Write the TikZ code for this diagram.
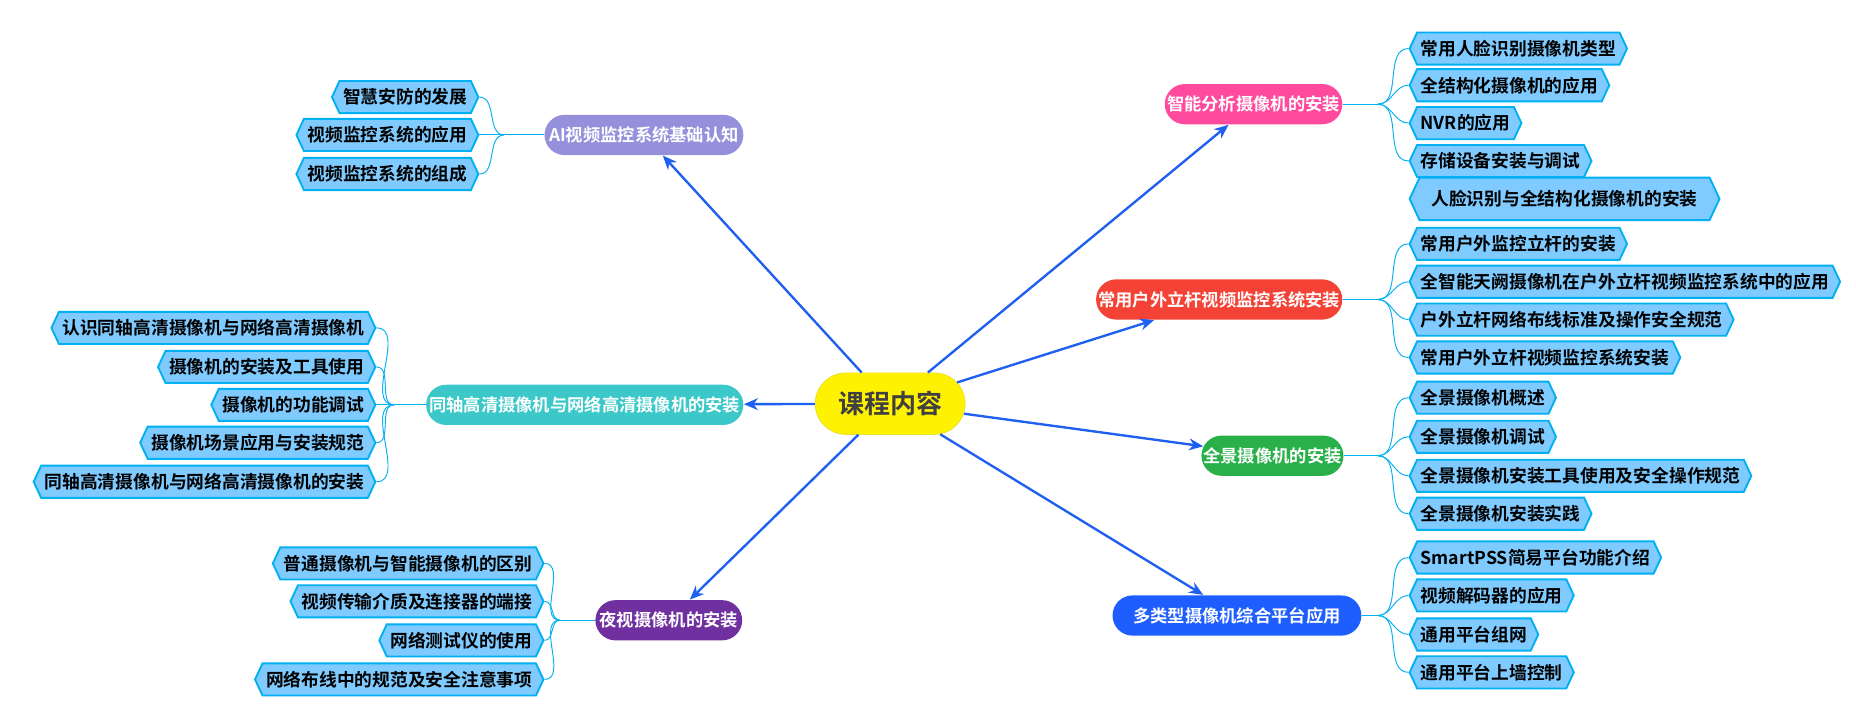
\documentclass[tikz,border=0pt]{standalone}
\usepackage{fontspec}
\newfontfamily\cjk{Noto Sans CJK SC Bold}
\usetikzlibrary{shapes.misc,shapes.symbols,arrows.meta}
\definecolor{leaffill}{HTML}{7FCBFF}
\definecolor{leafdraw}{HTML}{00B0F0}
\definecolor{arrblue}{HTML}{2060F0}
\definecolor{cai}{HTML}{9490DC}
\definecolor{cco}{HTML}{3CC8C8}
\definecolor{cni}{HTML}{7030A0}
\definecolor{czn}{HTML}{FF4A9E}
\definecolor{clg}{HTML}{F44336}
\definecolor{cqj}{HTML}{2AB04A}
\definecolor{cdl}{HTML}{1E5EFF}
\tikzset{
 leaf/.style={shape=signal,signal to=east and west,signal pointer angle=130,fill=leaffill,draw=leafdraw,line width=0.8pt,
   font=\cjk\fontsize{7.5}{8}\selectfont,text=black,inner xsep=1.5pt,inner ysep=3.2pt,minimum height=13pt},
 main/.style={shape=rounded rectangle,fill=#1,text=white,font=\cjk\fontsize{7.3}{8}\selectfont,minimum height=17pt,inner xsep=8pt},
 arr/.style={draw=arrblue,line width=1pt,-{Stealth[length=6pt,width=5pt]}},
 con/.style={draw=leafdraw,line width=0.4pt},
}
\begin{document}
\begin{tikzpicture}[x=0.5pt,y=-0.5pt]
\useasboundingbox (0,0) rectangle (1568,607);
% center
\node[shape=rounded rectangle,fill=yellow,draw=yellow!80!gray,line width=0.3pt,minimum width=70pt,minimum height=26pt,font=\cjk\fontsize{11}{12}\selectfont,text=black!75] (c) at (752,341) {课程内容};
% main nodes
\node[main=cai,minimum width=100pt] (ai) at (544,114) {AI视频监控系统基础认知};
\node[main=cco,minimum width=150pt] (co) at (494,342) {同轴高清摄像机与网络高清摄像机的安装};
\node[main=cni,minimum width=78pt] (ni) at (565,524) {夜视摄像机的安装};
\node[main=czn,minimum width=91pt] (zn) at (1059,88) {智能分析摄像机的安装};
\node[main=clg,minimum width=120pt] (lg) at (1030,253) {常用户外立杆视频监控系统安装};
\node[main=cqj,minimum width=76pt] (qj) at (1075,385) {全景摄像机的安装};
\node[main=cdl,minimum width=105pt] (dl) at (1045,520) {多类型摄像机综合平台应用};
\foreach \m in {ai,co,ni,zn,lg,qj,dl} \draw[arr] (c) -- (\m);
% left leaves
\node[leaf,anchor=east] (a1) at (405,82) {智慧安防的发展};
\node[leaf,anchor=east] (a2) at (405,114) {视频监控系统的应用};
\node[leaf,anchor=east] (a3) at (405,147) {视频监控系统的组成};
\node[leaf,anchor=east] (b1) at (318,277) {认识同轴高清摄像机与网络高清摄像机};
\node[leaf,anchor=east] (b2) at (318,310) {摄像机的安装及工具使用};
\node[leaf,anchor=east] (b3) at (318,342) {摄像机的功能调试};
\node[leaf,anchor=east] (b4) at (318,374) {摄像机场景应用与安装规范};
\node[leaf,anchor=east] (b5) at (318,407) {同轴高清摄像机与网络高清摄像机的安装};
\node[leaf,anchor=east] (n1) at (460,476) {普通摄像机与智能摄像机的区别};
\node[leaf,anchor=east] (n2) at (460,508) {视频传输介质及连接器的端接};
\node[leaf,anchor=east] (n3) at (460,541) {网络测试仪的使用};
\node[leaf,anchor=east] (n4) at (460,574) {网络布线中的规范及安全注意事项};
% right leaves
\node[leaf,anchor=west] (z1) at (1190,41) {常用人脸识别摄像机类型};
\node[leaf,anchor=west] (z2) at (1190,72) {全结构化摄像机的应用};
\node[leaf,anchor=west] (z3) at (1190,104) {NVR的应用};
\node[leaf,anchor=west] (z4) at (1190,136) {存储设备安装与调试};
\node[leaf,anchor=west,minimum height=18pt,inner xsep=5pt] (z5) at (1190,168) {人脸识别与全结构化摄像机的安装};
\node[leaf,anchor=west] (l1) at (1190,206) {常用户外监控立杆的安装};
\node[leaf,anchor=west] (l2) at (1190,238) {全智能天阙摄像机在户外立杆视频监控系统中的应用};
\node[leaf,anchor=west] (l3) at (1190,270) {户外立杆网络布线标准及操作安全规范};
\node[leaf,anchor=west] (l4) at (1190,302) {常用户外立杆视频监控系统安装};
\node[leaf,anchor=west] (q1) at (1190,336) {全景摄像机概述};
\node[leaf,anchor=west] (q2) at (1190,369) {全景摄像机调试};
\node[leaf,anchor=west] (q3) at (1190,402) {全景摄像机安装工具使用及安全操作规范};
\node[leaf,anchor=west] (q4) at (1190,434) {全景摄像机安装实践};
\node[leaf,anchor=west] (d1) at (1190,471) {SmartPSS简易平台功能介绍};
\node[leaf,anchor=west] (d2) at (1190,503) {视频解码器的应用};
\node[leaf,anchor=west] (d3) at (1190,536) {通用平台组网};
\node[leaf,anchor=west] (d4) at (1190,568) {通用平台上墙控制};
% junctions
\coordinate (ja) at (426,114); \coordinate (jb) at (333,342); \coordinate (jn) at (473,524);
\coordinate (jz) at (1164,88); \coordinate (jl) at (1164,253); \coordinate (jq) at (1164,385); \coordinate (jd) at (1164,520);
\draw[con] (ai.west) -- (ja); \draw[con] (co.west) -- (jb); \draw[con] (ni.west) -- (jn);
\draw[con] (zn.east) -- (jz); \draw[con] (lg.east) -- (jl); \draw[con] (qj.east) -- (jq); \draw[con] (dl.east) -- (jd);
\foreach \l in {a1,a2,a3} \draw[con] (ja) to[out=180,in=0] (\l.east);
\foreach \l in {b1,b2,b3,b4,b5} \draw[con] (jb) to[out=180,in=0] (\l.east);
\foreach \l in {n1,n2,n3,n4} \draw[con] (jn) to[out=180,in=0] (\l.east);
\foreach \l in {z1,z2,z3,z4} \draw[con] (jz) to[out=0,in=180] (\l.west);
\foreach \l in {l1,l2,l3,l4} \draw[con] (jl) to[out=0,in=180] (\l.west);
\foreach \l in {q1,q2,q3,q4} \draw[con] (jq) to[out=0,in=180] (\l.west);
\foreach \l in {d1,d2,d3,d4} \draw[con] (jd) to[out=0,in=180] (\l.west);
\end{tikzpicture}
\end{document}
